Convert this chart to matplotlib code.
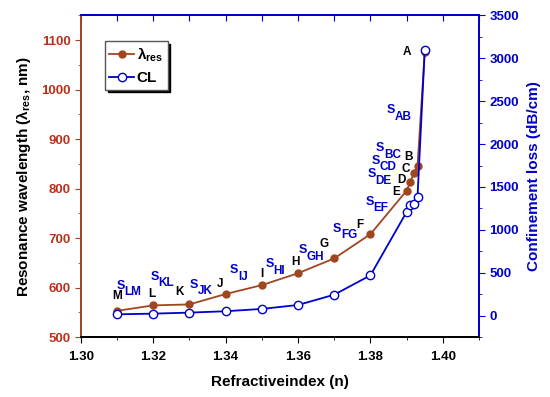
import numpy as np
import matplotlib
matplotlib.use('Agg')
import matplotlib.pyplot as plt
from matplotlib.ticker import MultipleLocator

plt.rcParams['font.family'] = ['Liberation Sans', 'DejaVu Sans']
plt.rcParams['font.weight'] = 'bold'
plt.rcParams['mathtext.fontset'] = 'custom'
plt.rcParams['mathtext.rm'] = 'Liberation Sans:bold'
plt.rcParams['mathtext.it'] = 'Liberation Sans:bold'
plt.rcParams['mathtext.bf'] = 'Liberation Sans:bold'

# data
n_index = [1.31, 1.32, 1.33, 1.34, 1.35, 1.36, 1.37, 1.38, 1.390, 1.391, 1.392, 1.393, 1.395]
lam_res = [553, 564, 566, 587, 605, 629, 659, 708, 796, 813, 832, 846, 1076]
conf_loss = [15, 23, 35, 51, 78, 124, 244, 470, 1209, 1285, 1300, 1384, 3100]
point_names = ['M', 'L', 'K', 'J', 'I', 'H', 'G', 'F', 'E', 'D', 'C', 'B', 'A']

# letter offsets from the brown points (pixels)
name_off = [(0, 15), (-1, 11), (-10, 12), (-6, 10), (0, 11), (-3, 11), (-10, 14),
            (-11, 9), (-11, -1), (-9, 2), (-8, 4), (-9, 9), (-18, 0)]

# segment labels S_xy: point where S meets its subscript, in left-axis data units
seg_names = ['LM', 'KL', 'JK', 'IJ', 'HI', 'GH', 'FG', 'EF', 'DE', 'CD', 'BC', 'AB']
seg_x = [1.3121, 1.3215, 1.3323, 1.3434, 1.3531, 1.3623, 1.3718, 1.3808, 1.3814, 1.3826, 1.3837, 1.3866]
seg_y = [597, 615, 599, 629, 641, 669, 712, 767, 823, 850, 875, 952]

brown = '#A0461E'
tickred = '#B8321E'
blue = '#0000CC'

fig = plt.figure(figsize=(5.5, 3.97), dpi=100)
ax = fig.add_axes([0.147, 0.151, 0.724, 0.81])
ax2 = ax.twinx()

l1, = ax.plot(n_index, lam_res, '-o', color=brown, lw=1.3, ms=5,
              mfc=brown, mec=brown, label=r'λ$_{\mathregular{res}}$')
l2, = ax2.plot(n_index, conf_loss, '-o', color=blue, lw=1.3, ms=6,
               mfc='white', mec=blue, label='CL')

for x, y, t, (dx, dy) in zip(n_index, lam_res, point_names, name_off):
    ax.annotate(t, (x, y), xytext=(dx, dy), textcoords='offset pixels',
                ha='center', va='center', fontsize=8.5, fontweight='bold', color='black')

# S with a large, low subscript
for x, y, t in zip(seg_x, seg_y, seg_names):
    ax.annotate('S', (x, y), xytext=(0.5, 3.3), textcoords='offset pixels',
                ha='right', va='center', fontsize=9, fontweight='bold', color=blue)
    ax.annotate(t, (x, y), xytext=(0, -3.3), textcoords='offset pixels',
                ha='left', va='center', fontsize=8.5, fontweight='bold', color=blue)

ax.set_xlim(1.30, 1.41)
ax.set_ylim(500, 1150)
ax2.set_ylim(-250, 3500)

ax.xaxis.set_major_locator(MultipleLocator(0.02))
ax.xaxis.set_minor_locator(MultipleLocator(0.01))
ax.yaxis.set_minor_locator(MultipleLocator(50))
ax2.yaxis.set_major_locator(MultipleLocator(500))
ax2.yaxis.set_minor_locator(MultipleLocator(250))
ax.set_yticks(np.arange(500, 1101, 100))

ax.tick_params(axis='x', which='both', direction='out', colors='black', labelsize=9.5, pad=6)
ax.tick_params(axis='x', which='major', length=4)
ax.tick_params(axis='x', which='minor', length=2)
ax.tick_params(axis='y', which='both', direction='out', color=brown, labelcolor=tickred, labelsize=9.5)
ax.tick_params(axis='y', which='major', length=4)
ax.tick_params(axis='y', which='minor', length=2)
ax2.tick_params(axis='y', which='both', direction='out', color=blue, labelcolor=blue, labelsize=9.5)
ax2.tick_params(axis='y', which='major', length=4)
ax2.tick_params(axis='y', which='minor', length=2)

top = ax.secondary_xaxis('top')
top.xaxis.set_major_locator(MultipleLocator(0.01))
top.tick_params(direction='in', length=4, color=blue, labeltop=False)
top.spines['top'].set_color(blue)
top.spines['top'].set_linewidth(1.3)

for a in (ax, ax2):
    a.spines['left'].set_color(brown)
    a.spines['right'].set_color(blue)
    a.spines['top'].set_color(blue)
    a.spines['bottom'].set_color('black')
    for s in a.spines.values():
        s.set_linewidth(1.3)

for lab in ax.get_xticklabels() + ax.get_yticklabels() + ax2.get_yticklabels():
    lab.set_fontweight('bold')

ax.set_xlabel('Refractiveindex (n)', fontsize=11, fontweight='bold', labelpad=9)
ax.set_ylabel(r'Resonance wavelength (λ$_{\mathregular{res}}$, nm)', fontsize=11,
              fontweight='bold', color='black', labelpad=6)
ax2.set_ylabel('Confinement loss (dB/cm)', fontsize=11, fontweight='bold', color=blue, labelpad=6)

leg = ax2.legend([l1, l2], [l1.get_label(), l2.get_label()], loc='upper left',
                 bbox_to_anchor=(0.06, 0.92), borderaxespad=0, fancybox=False,
                 shadow={'color': 'black', 'alpha': 1}, framealpha=1,
                 prop={'weight': 'bold', 'size': 11}, handlelength=1.6,
                 handletextpad=0.2, borderpad=0.3, labelspacing=0.45)
leg.get_frame().set_edgecolor('#555555')
leg.get_frame().set_linewidth(1.0)

fig.savefig('out.png', dpi=100)
